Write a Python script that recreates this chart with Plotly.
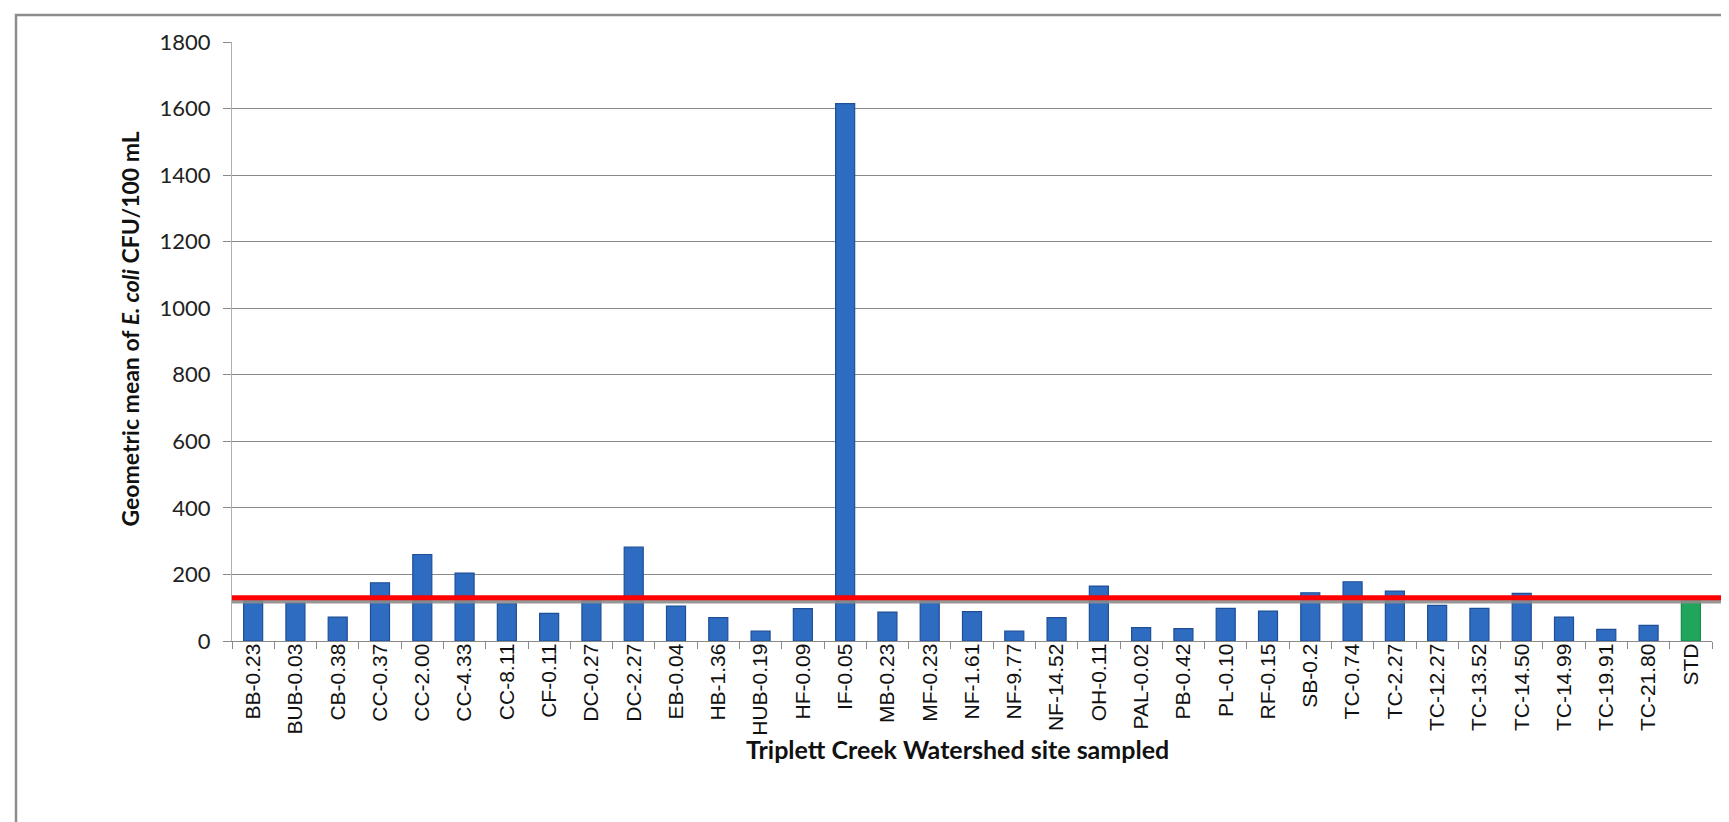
import plotly.graph_objects as go

sites = ["BB-0.23", "BUB-0.03", "CB-0.38", "CC-0.37", "CC-2.00", "CC-4.33", "CC-8.11",
         "CF-0.11", "DC-0.27", "DC-2.27", "EB-0.04", "HB-1.36", "HUB-0.19", "HF-0.09",
         "IF-0.05", "MB-0.23", "MF-0.23", "NF-1.61", "NF-9.77", "NF-14.52", "OH-0.11",
         "PAL-0.02", "PB-0.42", "PL-0.10", "RF-0.15", "SB-0.2", "TC-0.74", "TC-2.27",
         "TC-12.27", "TC-13.52", "TC-14.50", "TC-14.99", "TC-19.91", "TC-21.80", "STD"]
geo_means = [127, 115, 72, 175, 260, 204, 112,
             83, 128, 282, 105, 70, 30, 97,
             1615, 87, 128, 88, 30, 70, 165,
             40, 37, 98, 90, 145, 178, 150,
             107, 98, 143, 72, 35, 47, 126]
standard = 130
y_ticks = [0, 200, 400, 600, 800, 1000, 1200, 1400, 1600, 1800]

W, H = 1729, 822
L, R, T, B = 224, 25, 34, 189
pw, ph = W - L - R, H - T - B

def px_x(p):
    return (p - L) / pw

def px_y(p):
    return (H - B - p) / ph

colors = ["#1FA65C" if s == "STD" else "#2E6CC2" for s in sites]
lines = ["#178A4A" if s == "STD" else "#1F4E96" for s in sites]

fig = go.Figure(go.Bar(
    x=sites, y=geo_means,
    marker=dict(color=colors, line=dict(color=lines, width=1.2)),
    hoverinfo="x+y",
))

grid = "#8A8A8A"
fig.update_layout(
    width=W, height=H,
    margin=dict(l=L, r=R, t=T, b=B),
    paper_bgcolor="white", plot_bgcolor="white",
    bargap=0.55, showlegend=False,
    xaxis=dict(
        type="category", tickangle=-90,
        tickfont=dict(family="Liberation Sans, Arial", size=21, color="#111"),
        showline=True, linecolor=grid, linewidth=1.3,
        ticks="outside", tickson="boundaries", ticklen=7, tickcolor=grid,
        ticklabelstandoff=-7,
        showgrid=False, fixedrange=True,
    ),
    yaxis=dict(
        range=[0, 1800], tickvals=y_ticks,
        tickfont=dict(family="Lato", size=22, color="#222"),
        showgrid=True, gridcolor=grid, gridwidth=1.3,
        showline=True, linecolor="#B0B0B0", linewidth=1,
        ticks="outside", ticklen=8, tickcolor=grid,
        ticklabelstandoff=8, zeroline=False, fixedrange=True,
    ),
    annotations=[
        dict(text="<b>Geometric mean of <i>E. coli</i> CFU/100 mL</b>",
             xref="paper", yref="paper", x=px_x(122), y=0.52, textangle=-90,
             showarrow=False, xanchor="center", yanchor="middle",
             font=dict(family="Lato", size=23, color="#111")),
        dict(text="<b>Triplett Creek Watershed site sampled</b>",
             xref="paper", yref="paper", x=0.49, y=px_y(741),
             showarrow=False, xanchor="center", yanchor="middle",
             font=dict(family="Lato", size=25, color="#111")),
    ],
    shapes=[
        dict(type="rect", xref="paper", yref="paper",
             x0=px_x(8), x1=px_x(1726), y0=px_y(840), y1=px_y(7),
             line=dict(color="#8C8C8C", width=2.5), fillcolor="rgba(0,0,0,0)", layer="below"),
        dict(type="line", xref="paper", yref="y", x0=0, x1=px_x(1723),
             y0=standard - 12, y1=standard - 12,
             line=dict(color="rgba(140,140,140,0.9)", width=3.5), layer="above"),
        dict(type="line", xref="paper", yref="y", x0=0, x1=px_x(1723),
             y0=standard, y1=standard,
             line=dict(color="#FF0000", width=5), layer="above"),
    ],
)

fig.write_html("out.html")
